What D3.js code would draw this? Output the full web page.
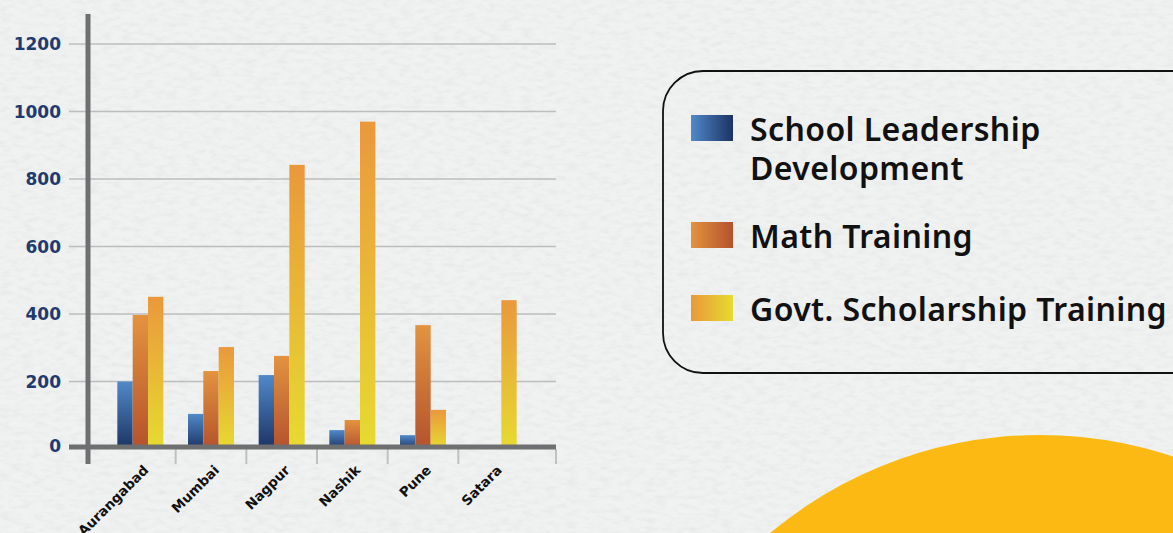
<!DOCTYPE html>
<html>
<head>
<meta charset="utf-8">
<script src="https://cdn.jsdelivr.net/npm/d3@7.9.0/dist/d3.min.js"></script>
<style>
  html, body { margin: 0; padding: 0; background: #eff0f0; overflow: hidden; }
  svg { display: block; }
</style>
</head>
<body>
<svg id="chart" width="1173" height="533"></svg>
<script>
const cities = ['Aurangabad', 'Mumbai', 'Nagpur', 'Nashik', 'Pune', 'Satara'];
const seriesNames = ['School Leadership Development', 'Math Training', 'Govt. Scholarship Training'];
const leadership = [200, 104, 219, 56, 41, 0];
const math = [397, 231, 276, 86, 367, 0];
const scholarship = [451, 302, 842, 970, 116, 441];
const yTicks = [0, 200, 400, 600, 800, 1000, 1200];
const legendLines = [['School Leadership', 'Development'], ['Math Training'], ['Govt. Scholarship Training']];

const seriesValues = [leadership, math, scholarship];
const gradStops = [
  ['#5189c9', '#1b3363'],
  ['#e3933f', '#b4522d'],
  ['#ea983c', '#e6db30']
];

const svg = d3.select('#chart');
const defs = svg.append('defs');

// paper texture
const paper = defs.append('filter').attr('id', 'paper')
  .attr('x', 0).attr('y', 0).attr('width', '100%').attr('height', '100%');
paper.append('feTurbulence').attr('type', 'fractalNoise')
  .attr('baseFrequency', '0.09 0.22').attr('numOctaves', 3).attr('seed', 7);
paper.append('feColorMatrix').attr('type', 'matrix')
  .attr('values', '0 0 0 0 0.5  0 0 0 0 0.51  0 0 0 0 0.52  1.2 0 0 0 -0.5');

// bar gradients (vertical) and swatch gradients (horizontal)
gradStops.forEach((stops, i) => {
  const v = defs.append('linearGradient').attr('id', `bar${i}`)
    .attr('x1', 0).attr('y1', 0).attr('x2', 0).attr('y2', 1);
  v.append('stop').attr('offset', '0%').attr('stop-color', stops[0]);
  v.append('stop').attr('offset', '100%').attr('stop-color', stops[1]);
  const h = defs.append('linearGradient').attr('id', `sw${i}`)
    .attr('x1', 0).attr('y1', 0).attr('x2', 1).attr('y2', 0);
  h.append('stop').attr('offset', '0%').attr('stop-color', stops[0]);
  h.append('stop').attr('offset', '100%').attr('stop-color', stops[1]);
});

svg.append('rect').attr('width', 1173).attr('height', 533).attr('fill', '#f0f1f1');
svg.append('rect').attr('width', 1173).attr('height', 533)
  .attr('filter', 'url(#paper)').attr('opacity', 0.3);

// big yellow circle bottom right
svg.append('circle').attr('cx', 1040).attr('cy', 855).attr('r', 420).attr('fill', '#fdb913');

// scales
const y = d3.scaleLinear().domain([0, 1200]).range([449, 44]);
const x0 = d3.scaleBand().domain(cities).range([105, 529]);
const groupW = 46;
const x1 = d3.scaleBand().domain(d3.range(3))
  .range([(x0.bandwidth() - groupW) / 2, (x0.bandwidth() + groupW) / 2]);

const gridLeft = 69, gridRight = 556, axisX = 88;

// gridlines
svg.append('g').selectAll('line')
  .data(yTicks.filter(d => d > 0))
  .join('line')
  .attr('x1', gridLeft).attr('x2', gridRight)
  .attr('y1', d => y(d)).attr('y2', d => y(d))
  .attr('stroke', '#bcbdbe').attr('stroke-width', 1.6);

// y labels
svg.append('g').selectAll('text')
  .data(yTicks)
  .join('text')
  .attr('x', 61)
  .attr('y', d => d === 0 ? y(d) - 3 : y(d))
  .attr('dy', '0.36em')
  .attr('text-anchor', 'end')
  .attr('font-family', 'DejaVu Sans, sans-serif')
  .attr('font-weight', 'bold')
  .attr('font-size', 17)
  .attr('fill', '#1f3a6f')
  .text(d => d);

// bars
const groups = svg.append('g').selectAll('g')
  .data(cities)
  .join('g')
  .attr('transform', d => `translate(${x0(d)},0)`);

groups.selectAll('rect')
  .data((c, ci) => seriesValues.map((vals, si) => ({ si, v: vals[ci] })))
  .join('rect')
  .attr('x', d => x1(d.si))
  .attr('width', x1.bandwidth())
  .attr('y', d => y(d.v))
  .attr('height', d => y(0) - y(d.v))
  .attr('fill', d => `url(#bar${d.si})`);

// x tick marks at category boundaries + end
const tickXs = cities.slice(1).map(c => x0(c)).concat([gridRight]);
svg.append('g').selectAll('line')
  .data(tickXs)
  .join('line')
  .attr('x1', d => d).attr('x2', d => d)
  .attr('y1', y(0)).attr('y2', 464)
  .attr('stroke', '#bfc0c1').attr('stroke-width', 2);

// axis lines
svg.append('line')
  .attr('x1', axisX).attr('x2', axisX).attr('y1', 14).attr('y2', 464)
  .attr('stroke', '#6e6f70').attr('stroke-width', 5);
svg.append('line')
  .attr('x1', gridLeft).attr('x2', gridRight).attr('y1', y(0) - 2).attr('y2', y(0) - 2)
  .attr('stroke', '#6e6f70').attr('stroke-width', 5);

// x labels
svg.append('g').selectAll('text')
  .data(cities)
  .join('text')
  .attr('transform', d => `translate(${x0(d) + x0.bandwidth() / 2 + 9},471) rotate(-45)`)
  .attr('text-anchor', 'end')
  .attr('font-family', 'DejaVu Sans, sans-serif')
  .attr('font-weight', 'bold')
  .attr('font-size', 13.5)
  .attr('fill', '#111')
  .text(d => d);

// legend
svg.append('rect')
  .attr('x', 663).attr('y', 71).attr('width', 560).attr('height', 302).attr('rx', 40)
  .attr('fill', 'none').attr('stroke', '#111').attr('stroke-width', 1.8);

const legendRowY = [115, 222, 295];
const legend = svg.append('g').selectAll('g')
  .data(seriesNames)
  .join('g')
  .attr('transform', (d, i) => `translate(691,${legendRowY[i]})`);

legend.append('rect')
  .attr('width', 42).attr('height', 26)
  .attr('fill', (d, i) => `url(#sw${i})`);

legend.append('text')
  .attr('x', 59)
  .attr('font-family', 'Noto Sans, sans-serif')
  .attr('font-weight', 600)
  .attr('font-size', 32)
  .attr('letter-spacing', 0.4)
  .attr('fill', '#111')
  .selectAll('tspan')
  .data((d, i) => legendLines[i])
  .join('tspan')
  .attr('x', 59)
  .attr('y', (d, j) => 26 + j * 39)
  .text(d => d);
</script>
</body>
</html>
